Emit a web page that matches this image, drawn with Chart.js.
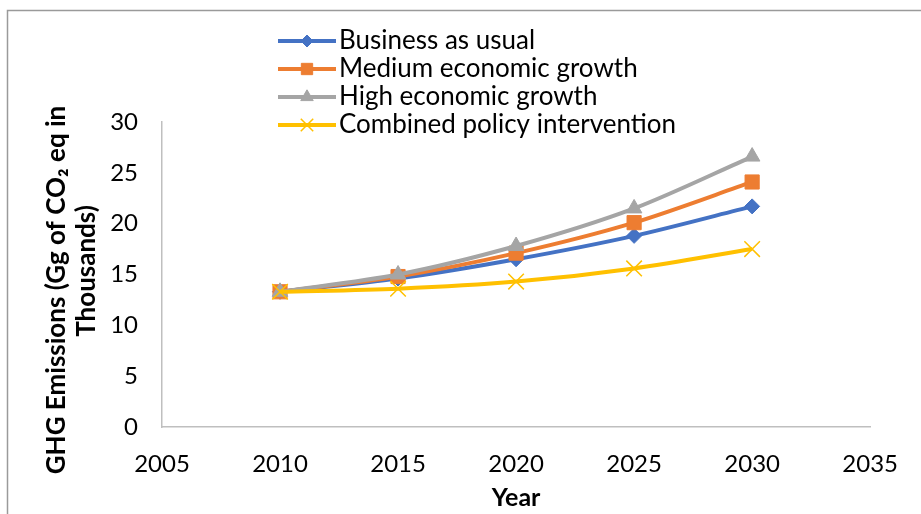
<!DOCTYPE html>
<html>
<head>
<meta charset="utf-8">
<script src="https://cdn.jsdelivr.net/npm/chart.js@4/dist/chart.umd.min.js"></script>
<style>
  html, body { margin: 0; padding: 0; background: #fff; }
  #wrap { width: 921px; height: 514px; }
</style>
</head>
<body>
<div id="wrap"><canvas id="ghg" width="921" height="514"></canvas></div>
<script>
// GHG emission scenarios, Gg of CO2 eq (thousands)
const years = [2010, 2015, 2020, 2025, 2030];
const seriesNames = ['Business as usual', 'Medium economic growth', 'High economic growth', 'Combined policy intervention'];
const businessAsUsual = [13.3, 14.6, 16.5, 18.8, 21.7];
const mediumGrowth = [13.3, 14.8, 17.1, 20.1, 24.1];
const highGrowth = [13.3, 15.0, 17.8, 21.5, 26.6];
const combinedPolicy = [13.3, 13.6, 14.3, 15.6, 17.5];
const xTicks = [2005, 2010, 2015, 2020, 2025, 2030, 2035];
const yTicks = [0, 5, 10, 15, 20, 25, 30];

const FONT = 'Lato, "Open Sans", sans-serif';

const styles = [
  { color: '#4472C4', pointStyle: 'rectRot', radius: 7.5, pointBorderWidth: 1 },
  { color: '#ED7D31', pointStyle: 'rect', radius: 10, pointBorderWidth: 1 },
  { color: '#A5A5A5', pointStyle: 'triangle', radius: 9, pointBorderWidth: 1 },
  { color: '#FFC000', pointStyle: 'crossRot', radius: 11, pointBorderWidth: 1.5 },
];

const values = [businessAsUsual, mediumGrowth, highGrowth, combinedPolicy];

const datasets = values.map((vals, i) => ({
  label: seriesNames[i],
  data: vals.map((v, j) => ({ x: years[j], y: v })),
  borderColor: styles[i].color,
  backgroundColor: styles[i].color,
  borderWidth: 4,
  tension: 0.3,
  pointStyle: styles[i].pointStyle,
  pointRadius: styles[i].radius,
  pointBorderWidth: styles[i].pointBorderWidth,
  pointBackgroundColor: styles[i].color,
  pointBorderColor: styles[i].color,
  order: values.length - i, // later series drawn on top
}));

// outer frame of the chart object
const framePlugin = {
  id: 'frame',
  beforeDraw(chart) {
    const ctx = chart.ctx;
    ctx.save();
    ctx.fillStyle = '#fff';
    ctx.fillRect(0, 0, chart.width, chart.height);
    ctx.strokeStyle = '#9a9a9a';
    ctx.lineWidth = 1.5;
    ctx.strokeRect(7.5, 10.5, 1200, 1200);
    ctx.restore();
  },
};

// two-line rotated y title with subscript
const yTitlePlugin = {
  id: 'yTitle',
  afterDraw(chart) {
    const lines = [
      { text: 'GHG Emissions (Gg of CO\u2082 eq in', x: 57, y: 290 },
      { text: 'Thousands)', x: 87, y: 271 },
    ];
    const ctx = chart.ctx;
    lines.forEach(l => {
      ctx.save();
      ctx.fillStyle = '#000';
      ctx.font = 'bold 26px ' + FONT;
      ctx.textAlign = 'center';
      ctx.textBaseline = 'middle';
      ctx.translate(l.x, l.y);
      ctx.rotate(-Math.PI / 2);
      ctx.fillText(l.text, 0, 0);
      ctx.restore();
    });
  },
};

// legend: line segment with marker, stacked top-left
const legendPlugin = {
  id: 'lineLegend',
  afterDraw(chart) {
    const ctx = chart.ctx;
    const x0 = 278, x1 = 336, top = 41, rowH = 28;
    chart.data.datasets.forEach((ds, i) => {
      const y = top + i * rowH;
      ctx.save();
      ctx.strokeStyle = ds.borderColor;
      ctx.lineWidth = 4;
      ctx.beginPath();
      ctx.moveTo(x0, y);
      ctx.lineTo(x1, y);
      ctx.stroke();
      ctx.fillStyle = ds.pointBackgroundColor;
      ctx.strokeStyle = ds.pointBorderColor;
      ctx.lineWidth = ds.pointBorderWidth;
      Chart.helpers.drawPoint(ctx, {
        pointStyle: ds.pointStyle,
        radius: ds.pointRadius * 0.8,
        borderWidth: ds.pointBorderWidth,
        rotation: 0,
      }, (x0 + x1) / 2, y);
      ctx.fillStyle = '#000';
      ctx.font = '26px ' + FONT;
      ctx.textAlign = 'left';
      ctx.textBaseline = 'middle';
      ctx.fillText(ds.label, x1 + 3, y);
      ctx.restore();
    });
  },
};

new Chart(document.getElementById('ghg'), {
  type: 'line',
  data: { datasets },
  plugins: [framePlugin, yTitlePlugin, legendPlugin],
  options: {
    responsive: false,
    animation: false,
    layout: { padding: { left: 0, top: 122, right: 48, bottom: 0 } },
    plugins: { legend: { display: false }, tooltip: { enabled: false } },
    scales: {
      x: {
        type: 'linear',
        min: xTicks[0],
        max: xTicks[xTicks.length - 1],
        afterBuildTicks: s => { s.ticks = xTicks.map(v => ({ value: v })); },
        afterFit: s => { s.height = 87; },
        grid: { display: false, drawTicks: false },
        border: { display: true, color: '#bfbfbf', width: 1.5 },
        ticks: { color: '#000', padding: 23, maxRotation: 0, font: { family: FONT, size: 24 }, callback: v => String(v) },
        title: { display: true, text: 'Year', color: '#000', padding: { top: 4, bottom: 1 }, font: { family: FONT, size: 25, weight: 'bold' } },
      },
      y: {
        min: yTicks[0],
        max: yTicks[yTicks.length - 1],
        afterBuildTicks: s => { s.ticks = yTicks.map(v => ({ value: v })); },
        afterFit: s => { s.width = 162; },
        grid: { display: false, drawTicks: false },
        border: { display: true, color: '#bfbfbf', width: 1.5 },
        ticks: { color: '#000', padding: 24, font: { family: FONT, size: 24 } },
      },
    },
  },
});
</script>
</body>
</html>
